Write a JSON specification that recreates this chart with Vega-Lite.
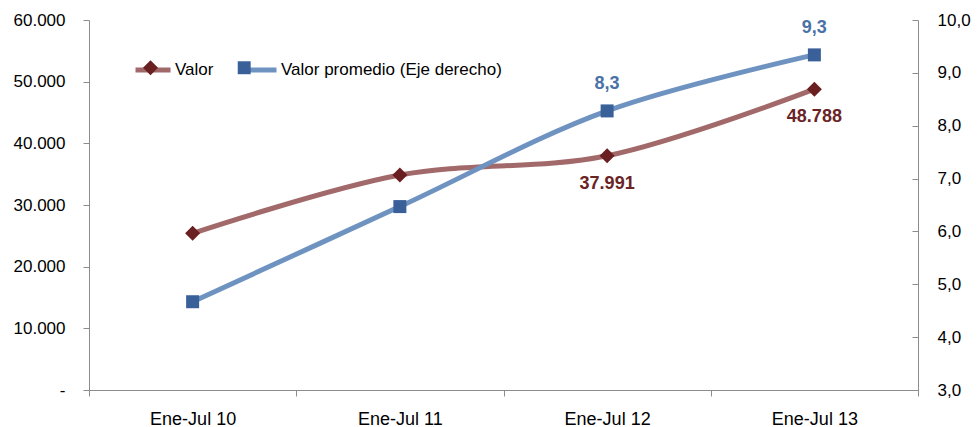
{
  "$schema": "https://vega.github.io/schema/vega-lite/v6.json",
  "width": 829,
  "height": 370,
  "autosize": {"type": "none"},
  "padding": {"left": 89, "top": 20, "right": 60, "bottom": 37},
  "background": "white",
  "config": {
    "view": {"stroke": null},
    "locale": {"number": {"decimal": ",", "thousands": ".", "grouping": [3], "currency": ["", ""]}},
    "axis": {"grid": false, "domainColor": "#8C8C8C", "tickColor": "#8C8C8C", "labelFont": "Liberation Sans", "labelFontSize": 17, "labelColor": "#000000", "title": null}
  },
  "data": {
    "values": [
      {"cat": "Ene-Jul 10", "serie": "Valor", "v": 25410},
      {"cat": "Ene-Jul 11", "serie": "Valor", "v": 34860},
      {"cat": "Ene-Jul 12", "serie": "Valor", "v": 37991},
      {"cat": "Ene-Jul 13", "serie": "Valor", "v": 48788},
      {"cat": "Ene-Jul 10", "serie": "Valor promedio (Eje derecho)", "v": 4.67},
      {"cat": "Ene-Jul 11", "serie": "Valor promedio (Eje derecho)", "v": 6.47},
      {"cat": "Ene-Jul 12", "serie": "Valor promedio (Eje derecho)", "v": 8.28},
      {"cat": "Ene-Jul 13", "serie": "Valor promedio (Eje derecho)", "v": 9.34}
    ]
  },
  "encoding": {
    "x": {
      "field": "cat", "type": "ordinal", "sort": null,
      "scale": {"paddingInner": 0, "paddingOuter": 0},
      "axis": {"tickBand": "extent", "labelAngle": 0, "tickSize": 6, "labelPadding": 14, "labelFontSize": 18, "title": null}
    }
  },
  "layer": [
    {
      "transform": [{"filter": "datum.serie === 'Valor'"}],
      "encoding": {
        "y": {
          "field": "v", "type": "quantitative",
          "scale": {"domain": [0, 60000], "nice": false},
          "axis": {"orient": "left", "values": [0, 10000, 20000, 30000, 40000, 50000, 60000], "format": ",.0f", "labelExpr": "datum.value == 0 ? '-' : datum.label", "tickSize": 6, "labelPadding": 18, "title": null}
        }
      },
      "layer": [
        {
          "mark": {"type": "line", "interpolate": "catmull-rom", "strokeWidth": 5},
          "encoding": {
            "color": {
              "field": "serie", "type": "nominal",
              "scale": {"domain": ["Valor", "Valor promedio (Eje derecho)"], "range": ["#A2696A", "#6F93C1"]},
              "legend": {"orient": "none", "legendX": 44, "legendY": 30, "direction": "horizontal", "title": null, "symbolType": "stroke", "symbolSize": 1225, "symbolStrokeWidth": 5, "labelFont": "Liberation Sans", "labelFontSize": 17, "labelColor": "#000000", "labelLimit": 400, "labelOffset": 2, "columnPadding": 17, "padding": 0}
            }
          }
        },
        {
          "mark": {"type": "point", "shape": "diamond", "size": 225, "filled": true, "opacity": 1, "strokeWidth": 0},
          "encoding": {
            "fill": {
              "field": "serie", "type": "nominal",
              "scale": {"range": ["#6A1F21", "#3A6099"]},
              "legend": {"orient": "none", "legendX": 44, "legendY": 30, "direction": "horizontal", "title": null, "symbolSize": 1225, "symbolStrokeWidth": 0, "symbolOpacity": 1, "labelFont": "Liberation Sans", "labelFontSize": 17, "labelExpr": "''", "labelLimit": 400, "labelOffset": 2, "columnPadding": 56.7, "padding": 0,
                "encode": {"symbols": {"update": {"shape": {"signal": "datum.value === 'Valor' ? 'M0,-0.43L0.43,0L0,0.43L-0.43,0Z' : 'M-0.37,-0.37H0.37V0.37H-0.37Z'"}}}}}
            }
          }
        },
        {
          "transform": [{"filter": "datum.cat === 'Ene-Jul 12' || datum.cat === 'Ene-Jul 13'"}],
          "mark": {"type": "text", "dy": 28, "font": "Liberation Sans", "fontSize": 18, "fontWeight": "bold", "color": "#6B2426"},
          "encoding": {"text": {"field": "v", "type": "quantitative", "format": ",.0f"}}
        }
      ]
    },
    {
      "transform": [{"filter": "datum.serie !== 'Valor'"}],
      "encoding": {
        "y": {
          "field": "v", "type": "quantitative",
          "scale": {"domain": [3, 10], "nice": false},
          "axis": {"orient": "right", "values": [3, 4, 5, 6, 7, 8, 9, 10], "format": ".1f", "tickSize": -6, "labelPadding": 25, "title": null}
        }
      },
      "layer": [
        {
          "mark": {"type": "line", "interpolate": "catmull-rom", "strokeWidth": 5},
          "encoding": {"color": {"field": "serie", "type": "nominal"}}
        },
        {
          "mark": {"type": "point", "shape": "square", "size": 169, "filled": true, "opacity": 1, "strokeWidth": 0},
          "encoding": {"fill": {"field": "serie", "type": "nominal"}}
        },
        {
          "transform": [{"filter": "datum.cat === 'Ene-Jul 12' || datum.cat === 'Ene-Jul 13'"}],
          "mark": {"type": "text", "dy": -27, "font": "Liberation Sans", "fontSize": 18, "fontWeight": "bold", "color": "#4A72A6"},
          "encoding": {"text": {"field": "v", "type": "quantitative", "format": ".1f"}}
        }
      ]
    }
  ],
  "resolve": {"scale": {"y": "independent"}}
}
